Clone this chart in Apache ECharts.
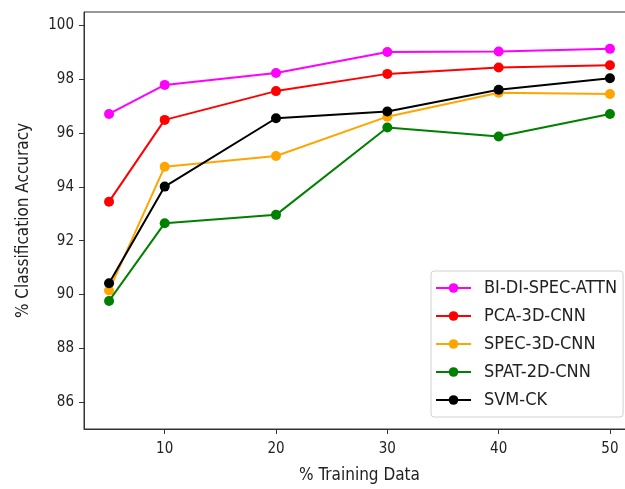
<!DOCTYPE html>
<html>
<head>
<meta charset="utf-8">
<script src="https://cdn.jsdelivr.net/npm/echarts@6/dist/echarts.min.js"></script>
<style>
    html,body{margin:0;padding:0;background:#fff;}
    #lineDiv{width:625px;height:489px;}
</style>
</head>
<body>
<div id="lineDiv"></div>
<script>
/*训练数据比例*/
var trainData = [5, 10, 20, 30, 40, 50];
var xTicks = [10, 20, 30, 40, 50];
var yTicks = [86, 88, 90, 92, 94, 96, 98, 100];

var seriesNames = ['BI-DI-SPEC-ATTN', 'PCA-3D-CNN', 'SPEC-3D-CNN', 'SPAT-2D-CNN', 'SVM-CK'];
var biDiSpecAttn = [96.71, 97.79, 98.23, 99.01, 99.03, 99.13];
var pca3dCnn = [93.45, 96.49, 97.56, 98.20, 98.44, 98.52];
var spec3dCnn = [90.15, 94.75, 95.15, 96.61, 97.50, 97.45];
var spat2dCnn = [89.76, 92.65, 92.96, 96.21, 95.87, 96.71];
var svmCk = [90.42, 94.01, 96.55, 96.80, 97.61, 98.04];

var colors = ['#ff00ff', '#ff0000', '#ffa500', '#008000', '#000000'];
var font = 'DejaVu Sans Condensed';

function pairs(ys) {
    return ys.map(function (y, i) { return [trainData[i], y]; });
}

var allData = [biDiSpecAttn, pca3dCnn, spec3dCnn, spat2dCnn, svmCk];
var series = allData.map(function (ys, i) {
    return {
        name: seriesNames[i],
        type: 'line',
        data: pairs(ys),
        symbol: 'circle',
        symbolSize: 10,
        lineStyle: {color: colors[i], width: 2},
        itemStyle: {color: colors[i]},
        z: 2 + i
    };
});

var chart = echarts.init(document.getElementById('lineDiv'));
chart.setOption({
    animation: false,
    color: colors,
    textStyle: {fontFamily: font},
    grid: {
        // right spine is cut off in the picture, so the plot runs past the edge
        left: 84, top: 12, width: 551, height: 417,
        outerBoundsMode: 'none',
        show: true, borderColor: '#333', borderWidth: 1,
        backgroundColor: 'transparent'
    },
    legend: {
        orient: 'vertical',
        left: 431, top: 271,
        padding: [8, 6, 8, 4],
        itemWidth: 35, itemHeight: 12, itemGap: 10,
        backgroundColor: 'rgba(255,255,255,0.8)',
        borderColor: '#d0d0d0', borderWidth: 1, borderRadius: 3,
        textStyle: {fontFamily: font, fontSize: 18, color: '#222', padding: [0, 0, 0, 8]},
        data: seriesNames
    },
    xAxis: {
        type: 'value',
        min: 2.75, max: 52.25,
        name: '% Training Data',
        nameLocation: 'middle', nameGap: 38,
        nameTextStyle: {fontFamily: font, fontSize: 17, color: '#222'},
        axisLine: {show: true, lineStyle: {color: '#333', width: 1}},
        axisTick: {show: true, length: 5, lineStyle: {color: '#333'}, customValues: xTicks},
        axisLabel: {fontFamily: font, fontSize: 15, color: '#222', margin: 13, customValues: xTicks},
        splitLine: {show: false}
    },
    yAxis: {
        type: 'value',
        min: 85, max: 100.5,
        name: '% Classification Accuracy',
        nameLocation: 'middle', nameGap: 52,
        nameTextStyle: {fontFamily: font, fontSize: 17, color: '#222'},
        axisLine: {show: true, lineStyle: {color: '#333', width: 1}},
        axisTick: {show: true, length: 5, lineStyle: {color: '#333'}, customValues: yTicks},
        axisLabel: {fontFamily: font, fontSize: 15, color: '#222', margin: 10, customValues: yTicks},
        splitLine: {show: false}
    },
    series: series
});
</script>
</body>
</html>
